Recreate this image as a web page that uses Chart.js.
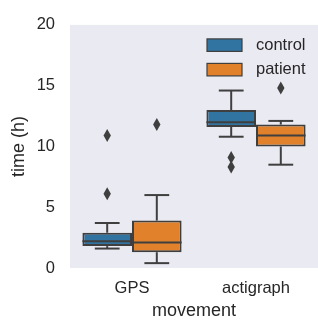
<!DOCTYPE html>
<html>
<head>
<meta charset="utf-8">
<script src="https://cdn.jsdelivr.net/npm/chart.js@4"></script>
<style>
  html, body { margin: 0; padding: 0; background: #fff; }
  #wrap { width: 318px; height: 320px; position: relative; }
</style>
</head>
<body>
<div id="wrap"><canvas id="boxChart"></canvas></div>
<script>
const categories = ['GPS', 'actigraph'];
const hues = ['control', 'patient'];
const hueColors = ['#3274A1', '#E1812C'];

// five-number summaries
const controlMin = [1.6, 10.8];
const controlQ1 = [1.8, 11.6];
const controlMedian = [2.2, 12.0];
const controlQ3 = [2.9, 13.0];
const controlMax = [3.7, 14.6];
const controlOutliers = [[6.1, 10.9], [9.1, 8.3]];

const patientMin = [0.4, 8.5];
const patientQ1 = [1.3, 10.0];
const patientMedian = [2.1, 10.9];
const patientQ3 = [3.9, 11.8];
const patientMax = [6.0, 12.1];
const patientOutliers = [[11.8], [14.8]];

const yTicks = [0, 5, 10, 15, 20];

const stats = [
  { min: controlMin, q1: controlQ1, med: controlMedian, q3: controlQ3, max: controlMax, out: controlOutliers },
  { min: patientMin, q1: patientQ1, med: patientMedian, q3: patientQ3, max: patientMax, out: patientOutliers },
];

const LINE = '#3f3f3f';
const TEXT = '#262626';
const FONT = '"Liberation Sans", Arial, sans-serif';

const plotBg = {
  id: 'plotBg',
  beforeDraw(chart) {
    const { ctx, chartArea: a } = chart;
    ctx.save();
    ctx.fillStyle = '#EAEAF2';
    ctx.fillRect(a.left, a.top, a.right - a.left, a.bottom - a.top);
    ctx.restore();
  }
};

const boxExtras = {
  id: 'boxExtras',
  afterDatasetsDraw(chart) {
    const { ctx } = chart;
    const y = chart.scales.y;
    ctx.save();
    ctx.strokeStyle = LINE;
    ctx.fillStyle = LINE;
    ctx.lineWidth = 2;
    stats.forEach((s, di) => {
      chart.getDatasetMeta(di).data.forEach((bar, i) => {
        const cx = bar.x, half = bar.width / 4;
        const line = (x1, y1, x2, y2) => { ctx.beginPath(); ctx.moveTo(x1, y1); ctx.lineTo(x2, y2); ctx.stroke(); };
        // whiskers + caps
        line(cx, y.getPixelForValue(s.q3[i]), cx, y.getPixelForValue(s.max[i]));
        line(cx, y.getPixelForValue(s.q1[i]), cx, y.getPixelForValue(s.min[i]));
        line(cx - half, y.getPixelForValue(s.max[i]), cx + half, y.getPixelForValue(s.max[i]));
        line(cx - half, y.getPixelForValue(s.min[i]), cx + half, y.getPixelForValue(s.min[i]));
        // median
        line(bar.x - bar.width / 2, y.getPixelForValue(s.med[i]), bar.x + bar.width / 2, y.getPixelForValue(s.med[i]));
        // outliers as thin diamonds
        s.out[i].forEach(v => {
          const py = y.getPixelForValue(v);
          ctx.beginPath();
          ctx.moveTo(cx, py - 6.5); ctx.lineTo(cx + 3.7, py);
          ctx.lineTo(cx, py + 6.5); ctx.lineTo(cx - 3.7, py);
          ctx.closePath(); ctx.fill();
        });
      });
    });
    ctx.restore();
  }
};

const innerLegend = {
  id: 'innerLegend',
  afterDraw(chart) {
    const { ctx, chartArea: a } = chart;
    ctx.save();
    ctx.font = '16.5px ' + FONT;
    ctx.textBaseline = 'middle';
    hues.forEach((h, i) => {
      const x = a.right - 111, top = a.top + 14 + i * 24.5;
      ctx.fillStyle = hueColors[i];
      ctx.fillRect(x, top, 35, 12.5);
      ctx.strokeStyle = LINE;
      ctx.lineWidth = 1.2;
      ctx.strokeRect(x, top, 35, 12.5);
      ctx.fillStyle = TEXT;
      ctx.fillText(h, x + 49, top + 6.5);
    });
    ctx.restore();
  }
};

new Chart(document.getElementById('boxChart'), {
  type: 'bar',
  data: {
    labels: categories,
    datasets: stats.map((s, di) => ({
      label: hues[di],
      data: s.q1.map((q, i) => [q, s.q3[i]]),
      backgroundColor: hueColors[di],
      borderColor: LINE,
      borderWidth: 2,
      borderSkipped: false,
      categoryPercentage: 0.8,
      barPercentage: 1,
    })),
  },
  options: {
    responsive: true,
    maintainAspectRatio: false,
    animation: false,
    layout: { padding: { top: 19, right: 0, left: 0, bottom: 0 } },
    plugins: { legend: { display: false }, tooltip: { enabled: false } },
    scales: {
      x: {
        grid: { display: false, drawTicks: false },
        border: { display: false },
        ticks: { color: TEXT, font: { family: FONT, size: 16.5 }, padding: 11 },
        title: { display: true, text: 'movement', color: TEXT, font: { family: FONT, size: 18, lineHeight: 1 }, padding: { top: 0, bottom: 0 } },
        afterFit(s) { s.height = 52; },
      },
      y: {
        min: 0, max: 20,
        afterBuildTicks(s) { s.ticks = yTicks.map(v => ({ value: v })); },
        grid: { display: false, drawTicks: false },
        border: { display: false },
        ticks: { color: TEXT, font: { family: FONT, size: 16.5 }, padding: 15 },
        title: { display: true, text: 'time (h)', color: TEXT, font: { family: FONT, size: 18 }, padding: { top: 8, bottom: 0 } },
        afterFit(s) { s.width = 70; },
      },
    },
  },
  plugins: [plotBg, boxExtras, innerLegend],
});
</script>
</body>
</html>
